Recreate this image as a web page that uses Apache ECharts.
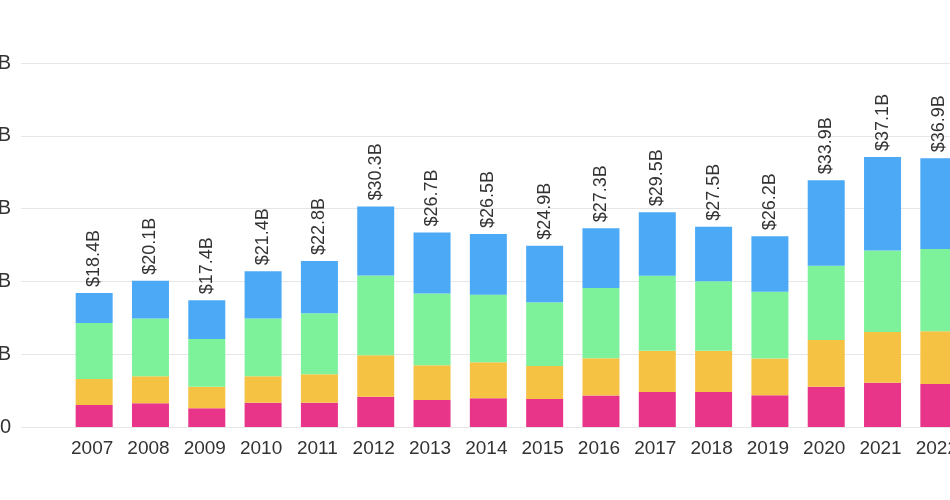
<!DOCTYPE html>
<html>
<head>
<meta charset="utf-8">
<script src="https://cdn.jsdelivr.net/npm/echarts@6/dist/echarts.min.js"></script>
<style>
html,body{margin:0;padding:0;background:#fff;}
#chart{width:950px;height:500px;}
</style>
</head>
<body>
<div id="chart"></div>
<script>
const years = ['2007', '2008', '2009', '2010', '2011', '2012', '2013', '2014', '2015', '2016', '2017', '2018', '2019', '2020', '2021', '2022'];
const pink   = [3.03, 3.26, 2.57, 3.34, 3.34, 4.17, 3.71, 3.95, 3.85, 4.31, 4.81, 4.81, 4.36, 5.54, 6.09, 5.91];
const orange = [3.58, 3.71, 2.97, 3.63, 3.90, 5.69, 4.77, 4.95, 4.54, 5.14, 5.68, 5.68, 5.04, 6.42, 6.97, 7.25];
const green  = [7.66, 7.92, 6.56, 7.92, 8.39, 10.95, 9.85, 9.26, 8.76, 9.63, 10.27, 9.54, 9.17, 10.18, 11.18, 11.28];
const blue   = [4.13, 5.21, 5.30, 6.51, 7.17, 9.49, 8.37, 8.34, 7.75, 8.22, 8.74, 7.47, 7.63, 11.76, 12.86, 12.46];
const totals = [18.4, 20.1, 17.4, 21.4, 22.8, 30.3, 26.7, 26.5, 24.9, 27.3, 29.5, 27.5, 26.2, 33.9, 37.1, 36.9];
const yTicks = [0, 10, 20, 30, 40, 50];

const chart = echarts.init(document.getElementById('chart'), null, {renderer: 'canvas'});
const font = '"Liberation Sans", Arial, Helvetica, sans-serif';
function mk(name, arr, color, withLabel){
  const s = {
    name: name,
    type: 'bar',
    stack: 'total',
    barWidth: 37,
    xAxisIndex: 0,
    yAxisIndex: 0,
    data: arr,
    itemStyle: {color: color},
    emphasis: {disabled: true}
  };
  if (withLabel) {
    s.label = {
      show: true,
      position: 'top',
      rotate: 90,
      align: 'left',
      verticalAlign: 'middle',
      distance: 6,
      color: '#333',
      fontSize: 18,
      fontFamily: font,
      formatter: p => '$' + totals[p.dataIndex].toFixed(1) + 'B'
    };
  }
  return s;
}
const yMin = yTicks[0], yMax = yTicks[yTicks.length - 1];
chart.setOption({
  animation: false,
  backgroundColor: '#ffffff',
  grid: [
    {left: 66, right: -17, top: 63, bottom: 73, containLabel: false, outerBoundsMode: 'none'},
    {left: 21, right: 0, top: 63, bottom: 73, containLabel: false, outerBoundsMode: 'none'}
  ],
  xAxis: [
    {
      type: 'category',
      gridIndex: 0,
      data: years,
      axisLine: {show: false},
      axisTick: {show: false},
      axisLabel: {interval: 0, hideOverlap: false, color: '#333', fontSize: 19, fontFamily: font, margin: 12, padding: [0, 4, 0, 0]}
    },
    {
      type: 'value', gridIndex: 1, min: 0, max: 1, show: false
    }
  ],
  yAxis: [
    {
      type: 'value', gridIndex: 0, min: yMin, max: yMax, interval: 10, show: false
    },
    {
      type: 'value',
      gridIndex: 1,
      min: yMin,
      max: yMax,
      interval: 10,
      axisLine: {show: false},
      axisTick: {show: false},
      splitLine: {lineStyle: {color: '#e6e6e6'}},
      axisLabel: {
        color: '#333',
        fontSize: 20,
        fontFamily: font,
        margin: 10,
        formatter: v => v === 0 ? '0' : '$' + v + 'B'
      }
    }
  ],
  series: [
    mk('Pink', pink, '#E8358A', false),
    mk('Orange', orange, '#F6C244', false),
    mk('Green', green, '#7EF29B', false),
    mk('Blue', blue, '#4BA9F6', true)
  ]
});
</script>
</body>
</html>
